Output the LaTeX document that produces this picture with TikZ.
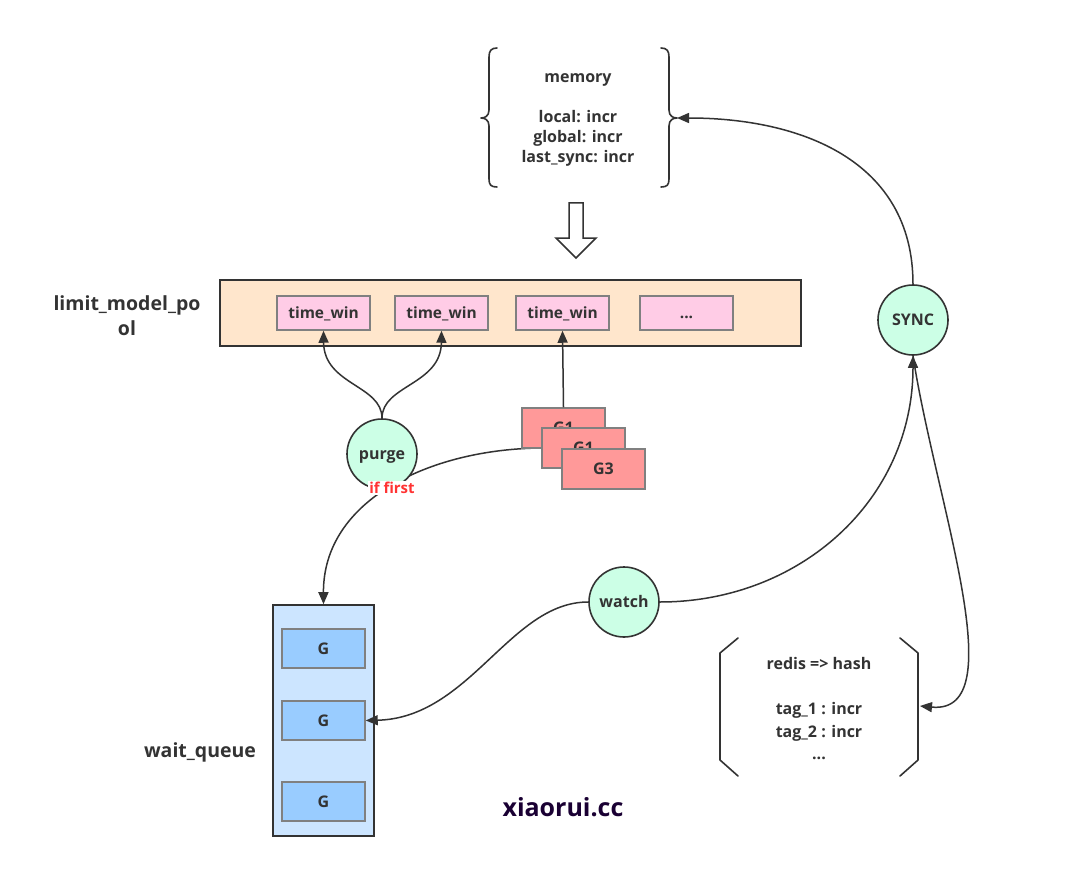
\documentclass[tikz,border=0pt]{standalone}
\usepackage{fontspec}
\setmainfont{Open Sans}
\usetikzlibrary{arrows.meta,backgrounds}
\definecolor{ink}{HTML}{333333}
\definecolor{poolfill}{HTML}{FFE6CC}
\definecolor{twfill}{HTML}{FFCCE6}
\definecolor{gfill}{HTML}{FF9999}
\definecolor{circfill}{HTML}{CCFFE6}
\definecolor{wqfill}{HTML}{CCE5FF}
\definecolor{gqfill}{HTML}{99CCFF}
\definecolor{boxline}{HTML}{808080}
\definecolor{redtxt}{HTML}{FF3333}
\definecolor{sitecol}{HTML}{1A0033}
\tikzset{
  txt/.style={text=ink, font=\fontsize{16}{20}\selectfont\bfseries, inner sep=0pt, align=center},
  bigbox/.style={draw=ink, line width=1.6pt, inner sep=0pt},
  centred/.style={text height=12pt, text depth=1pt},
  smallbox/.style={centred, draw=boxline, line width=1.5pt, inner sep=0pt, minimum width=93pt, minimum height=34pt, text=ink, font=\fontsize{15.5}{18}\selectfont\bfseries},
  gbox/.style={centred, draw=boxline, line width=1.5pt, inner sep=0pt, minimum width=83pt, minimum height=40pt, fill=gfill, text=ink, font=\fontsize{16}{18}\selectfont\bfseries},
  qbox/.style={centred, draw=boxline, line width=1.5pt, inner sep=0pt, minimum width=83pt, minimum height=39pt, fill=gqfill, text=ink, font=\fontsize{16}{18}\selectfont\bfseries},
  circ/.style={centred, circle, draw=ink, line width=1.6pt, fill=circfill, minimum size=70pt, inner sep=0pt, text=ink, font=\fontsize{16}{18}\selectfont\bfseries},
  conn/.style={draw=ink, line width=1.5pt},
  arr/.style={conn, -{Triangle[length=12pt,width=10pt]}},
  bracket/.style={draw=ink, line width=1.6pt, line join=round, line cap=round}
}
\begin{document}
\begin{tikzpicture}[x=1pt,y=-1pt]
\useasboundingbox (0,0) rectangle (1092,869);
\begin{scope}[on background layer]
\fill[white] (0,0) rectangle (1092,869);
\end{scope}

% memory brace block
\node[txt] (mem) at (578,120) {memory\\[20pt]local: incr\\global: incr\\last\_sync: incr};
\draw[bracket] (497,48) .. controls (491,48) and (489,51) .. (489,57) -- (489,110)
  .. controls (489,116) and (485,118) .. (481,118)
  .. controls (485,118) and (489,120) .. (489,126) -- (489,179)
  .. controls (489,185) and (491,187) .. (497,187);
\draw[bracket] (661,48) .. controls (667,48) and (669,51) .. (669,57) -- (669,110)
  .. controls (669,116) and (673,118) .. (677,118)
  .. controls (673,118) and (669,120) .. (669,126) -- (669,179)
  .. controls (669,185) and (667,187) .. (661,187);
\coordinate (memtip) at (677,118);

% block arrow
\draw[draw=ink, line width=1.5pt, line join=miter, fill=white]
  (569,203) -- (583,203) -- (583,238) -- (596,238) -- (576,258) -- (556,238) -- (569,238) -- cycle;

% pool
\node[bigbox, fill=poolfill, minimum width=581pt, minimum height=66pt] (pool) at (510.5,313) {};
\node[smallbox, fill=twfill] (tw1) at (323.5,313) {time\_win};
\node[smallbox, fill=twfill] (tw2) at (441.5,313) {time\_win};
\node[smallbox, fill=twfill] (tw3) at (562.5,313) {time\_win};
\node[smallbox, fill=twfill] (tw4) at (686.5,313) {...};
\node[txt, font=\fontsize{19.5}{25}\selectfont\bfseries] (poollabel) at (127,316) {limit\_model\_po\\ol};

% G stack
\node[gbox] (g1a) at (563.5,428) {G1};
\node[gbox] (g1b) at (583.5,448) {G1};
\node[gbox] (g3) at (603.5,469) {G3};

% wait queue
\node[bigbox, fill=wqfill, minimum width=101pt, minimum height=231pt] (wq) at (323.5,720.5) {};
\node[qbox] (gq1) at (323.5,648.5) {G};
\node[qbox] (gq2) at (323.5,720.5) {G};
\node[qbox] (gq3) at (323.5,801.5) {G};
\node[txt, font=\fontsize{19.5}{24}\selectfont\bfseries] (wqlabel) at (200,752) {wait\_queue};

% edge G1 -> wait queue (behind purge)
\begin{scope}[on background layer]
\draw[arr] (g1b.west) .. controls (430,449) and (323,500) .. (wq.north);
\end{scope}

% circles
\node[circ] (purge) at (382,454) {purge};
\node[circ] (watch) at (624,602) {watch};
\node[circ] (sync) at (913,320) {SYNC};
\node[fill=white, text=redtxt, font=\fontsize{15}{16}\selectfont\bfseries, inner sep=1pt] (iffirst) at (392,488) {if first};

% redis bracket block
\node[txt, font=\fontsize{16}{22.5}\selectfont\bfseries] (redis) at (819,709) {redis => hash\\[22.5pt]tag\_1 : incr\\tag\_2 : incr\\...};
\draw[bracket] (738,638) -- (720,653) -- (720,760) -- (738,776);
\draw[bracket] (900,638) -- (918,653) -- (918,760) -- (900,776);
\coordinate (redistip) at (920,706);

% connectors
\draw[arr] (purge.north) .. controls (382,385) and (324,385) .. (tw1.south);
\draw[arr] (purge.north) .. controls (382,385) and (441,385) .. (tw2.south);
\draw[arr] (g1a.north) -- (tw3.south);
\draw[arr] (watch.west) .. controls (510,602) and (470,718) .. (gq2.east);
\draw[arr] (watch.east) .. controls (800,602) and (913,500) .. (sync.south);
\draw[arr] (sync.north) .. controls (913,160) and (800,118) .. (memtip);
\draw[arr] (sync.south) .. controls (935,500) and (1015,715) .. (redistip);

% site label
\node[text=sitecol, font=\fontsize{25}{30}\selectfont\bfseries, inner sep=0pt] (site) at (563,807) {xiaorui.cc};
\end{tikzpicture}
\end{document}
